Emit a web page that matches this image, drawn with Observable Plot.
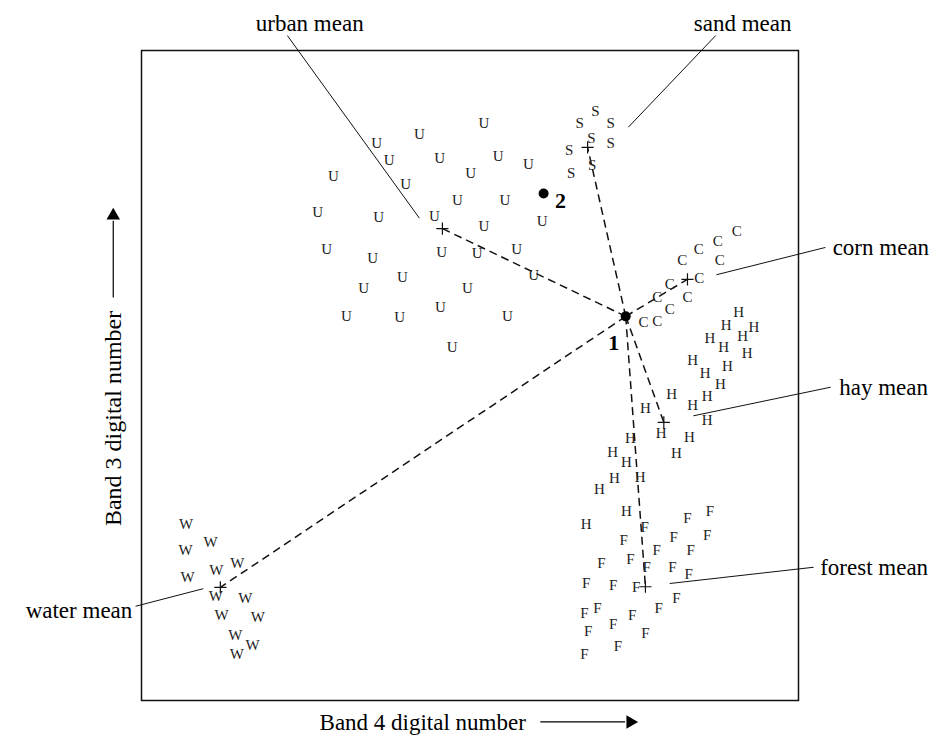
<!DOCTYPE html>
<html><head><meta charset="utf-8">
<script src="https://cdn.jsdelivr.net/npm/d3@7"></script>
<script src="https://cdn.jsdelivr.net/npm/@observablehq/plot@0.6"></script>
<style>body{margin:0;background:#fff}svg{overflow:visible}</style>
</head><body><div id="chart"></div>
<script>
// Training samples (Band 4 DN on x, Band 3 DN on y, relative units 0-100)
const urbanX = [52.1,42.3,35.8,37.7,45.4,54.3,58.9,29.2,50.1,40.2,48.1,55.3,26.8,36.1,44.6,61.0,52.1,28.2,35.2,45.7,51.1,57.1,59.7,39.7,33.8,49.6,31.2,39.3,45.5,55.7,47.3];
const urbanY = [88.8,87.2,85.8,83.2,83.4,83.7,82.5,80.6,81.1,79.5,76.9,76.9,75.1,74.3,74.5,73.7,72.9,69.5,68.0,68.9,68.8,69.4,65.4,65.1,63.5,63.5,59.1,58.9,60.5,59.1,54.3];
const sandX = [69.1,66.7,71.4,68.5,71.4,65.1,68.6,65.4];
const sandY = [90.6,88.8,88.8,86.5,85.7,84.6,82.3,81.2];
const cornX = [90.6,84.8,87.7,88.0,82.3,84.9,80.4,78.5,83.1,80.4,76.4,78.5];
const cornY = [72.2,69.4,70.6,67.8,67.7,64.9,64.0,62.0,62.0,60.2,58.2,58.3];
const hayX = [90.9,89.0,93.2,91.5,86.5,88.6,92.2,83.9,89.2,85.8,88.1,80.7,86.1,83.9,76.7,86.1,79.1,83.4,81.4,74.4,71.7,73.8,72.0,75.9,69.7,73.8,67.7];
const hayY = [59.7,57.8,57.5,56.0,55.8,54.3,53.4,52.3,51.5,50.3,48.6,47.2,46.8,45.4,44.9,43.1,41.2,40.5,38.0,40.3,38.2,36.6,34.2,34.3,32.5,29.1,27.2];
const forestX = [86.5,83.1,76.6,86.1,81.0,73.4,78.4,83.6,70.0,74.4,76.9,80.8,83.3,67.7,71.8,75.3,81.4,78.7,69.4,67.4,74.7,71.8,68.0,76.7,72.5,67.4];
const forestY = [29.1,28.0,26.6,25.4,25.1,24.6,23.2,23.2,21.1,21.7,20.5,20.5,19.4,18.0,17.7,17.4,15.7,14.2,14.2,13.4,13.2,11.8,10.6,10.3,8.3,7.2];
const waterX = [6.8,6.7,10.5,14.6,11.4,7.0,11.3,15.8,12.2,17.7,14.3,16.9,14.5];
const waterY = [27.2,23.2,24.3,21.2,20.0,18.9,16.0,15.8,13.1,12.8,10.0,8.5,7.1];

const classLetters = ["U","S","C","H","F","W"];
const classNames = ["urban mean","sand mean","corn mean","hay mean","forest mean","water mean"];
const meanX = [45.8,67.9,83.1,79.5,76.7,12.0];
const meanY = [72.6,85.1,64.8,42.8,17.5,17.4];

// unknown pixels
const pixelLabels = ["1","2"];
const pixelX = [73.7,61.2];
const pixelY = [59.1,78.0];

// label leader lines (from mean area to label)
const leaderX1 = [42.3,74.1,87.5,84.0,80.4,9.4];
const leaderY1 = [74.2,88.2,65.5,43.8,18.0,17.2];
const leaderX2 = [22.2,87.4,104.1,104.9,102.3,-0.9];
const leaderY2 = [102.3,102.3,69.7,48.2,20.5,14.5];
const labelX = [25.6,91.5,105.2,106.2,103.3,-1.4];
const labelY = [104.2,104.2,69.7,48.2,20.5,13.8];
const labelAnchor = ["middle","middle","start","start","start","end"];

const xTitle = "Band 4 digital number";
const yTitle = "Band 3 digital number";

const groupsX = [urbanX,sandX,cornX,hayX,forestX,waterX];
const groupsY = [urbanY,sandY,cornY,hayY,forestY,waterY];
const samples = [];
groupsX.forEach((xs,g)=>xs.forEach((x,i)=>samples.push({x, y: groupsY[g][i], t: classLetters[g]})));
const means = meanX.map((x,i)=>({x, y: meanY[i], name: classNames[i]}));
const pixels = pixelX.map((x,i)=>({x, y: pixelY[i], t: pixelLabels[i]}));
const leaders = leaderX1.map((x1,i)=>({x1, y1: leaderY1[i], x2: leaderX2[i], y2: leaderY2[i]}));
const labels = labelX.map((x,i)=>({x, y: labelY[i], t: classNames[i], a: labelAnchor[i]}));
const p1 = pixels[0];

const serif = "'Liberation Serif', 'Times New Roman', serif";

const chart = Plot.plot({
  width: 932,
  height: 736,
  marginLeft: 141,
  marginRight: 134,
  marginTop: 50,
  marginBottom: 36,
  x: {domain: [0,100], axis: null},
  y: {domain: [0,100], axis: null},
  style: {fontFamily: serif, background: "#fff"},
  marks: [
    Plot.frame({stroke: "#111", strokeWidth: 1.5}),
    Plot.link(means, {x1: () => p1.x, y1: () => p1.y, x2: "x", y2: "y", stroke: "#111", strokeWidth: 1.5, strokeDasharray: "8,5"}),
    Plot.link(leaders, {x1: "x1", y1: "y1", x2: "x2", y2: "y2", stroke: "#111", strokeWidth: 1}),
    Plot.text(samples, {x: "x", y: "y", text: "t", fontSize: 15, fill: "#222", fontFamily: serif}),
    Plot.dot(means, {x: "x", y: "y", symbol: "plus", r: 4, stroke: "#111", strokeWidth: 1.2}),
    Plot.dot(pixels, {x: "x", y: "y", r: 5, fill: "#000"}),
    Plot.text(pixels.slice(0,1), {x: "x", y: "y", text: "t", dx: -12, dy: 27, fontSize: 22, fontWeight: "bold", fill: "#000"}),
    Plot.text(pixels.slice(1), {x: "x", y: "y", text: "t", dx: 17, dy: 7, fontSize: 22, fontWeight: "bold", fill: "#000"}),
    Plot.text(labels.filter(d=>d.a==="middle"), {x: "x", y: "y", text: "t", textAnchor: "middle", fontSize: 23, fill: "#000"}),
    Plot.text(labels.filter(d=>d.a==="start"), {x: "x", y: "y", text: "t", textAnchor: "start", fontSize: 23, fill: "#000"}),
    Plot.text(labels.filter(d=>d.a==="end"), {x: "x", y: "y", text: "t", textAnchor: "end", fontSize: 23, fill: "#000"}),
    Plot.text([xTitle], {x: 42.8, y: -3.4, text: d => d, fontSize: 23, fill: "#000"}),
    Plot.text([yTitle], {x: -4.3, y: 43.4, text: d => d, rotate: -90, fontSize: 24, fill: "#000"}),
    Plot.link([{x1: 60.7, x2: 73.6, y: -3.3}], {x1: "x1", x2: "x2", y1: "y", y2: "y", stroke: "#000", strokeWidth: 1.2}),
    Plot.dot([{x: 74.4, y: -3.3}], {x: "x", y: "y", symbol: "triangle", rotate: 90, r: 5, fill: "#000"}),
    Plot.link([{x: -4.3, y1: 62.0, y2: 73.8}], {x1: "x", x2: "x", y1: "y1", y2: "y2", stroke: "#000", strokeWidth: 1.2}),
    Plot.dot([{x: -4.3, y: 74.6}], {x: "x", y: "y", symbol: "triangle", r: 5, fill: "#000"})
  ]
});
document.getElementById("chart").appendChild(chart);
</script>
</body></html>
